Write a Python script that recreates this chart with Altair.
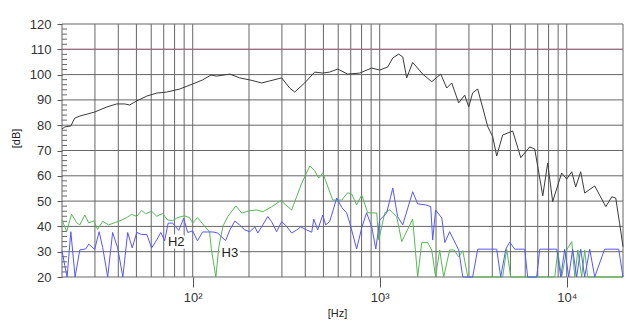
import altair as alt
import pandas as pd

# ---------- data ----------
# Frequency response (black)
resp_freq = [20, 20.7, 22.3, 23.4, 24.9, 29.9, 34.7, 39.2, 43.3, 46.0, 50.2, 56.8, 64.2, 72.6, 85.2,
             100, 113, 125, 134, 158, 178, 202, 234, 258, 299, 330, 351, 397, 449, 496,
             540, 596, 674, 781, 906, 1000, 1104, 1175, 1264, 1328, 1394, 1501, 1698, 1897, 2120,
             2282, 2427, 2645, 2848, 2992, 3142, 3342, 3783, 4020, 4224, 4545, 5143, 5679, 6344, 6745,
             7447, 7913, 8414, 9397, 10000, 10640, 11170, 11880, 12480, 14120, 16180, 17420, 18290, 19200, 20000]
resp_db = [78.5, 79.3, 79.7, 82.8, 83.6, 85.2, 87.2, 88.4, 88.4, 88.0, 89.6, 91.5, 92.7, 93.1, 94.3,
           96.3, 97.9, 99.8, 99.4, 100.2, 98.7, 97.9, 96.7, 97.5, 98.7, 94.7, 93.1, 96.7, 101.0, 100.6,
           101.0, 102.2, 100.2, 100.6, 102.6, 101.8, 103.0, 106.6, 108.1, 107.0, 98.7, 104.8, 100.2, 97.2, 100.2,
           94.7, 96.7, 88.8, 91.9, 87.2, 92.8, 94.3, 79.4, 75.5, 67.8, 76.1, 77.7, 67.2, 71.4, 70.6,
           52.1, 65.0, 49.8, 61.1, 58.7, 61.6, 55.6, 61.6, 53.2, 56.0, 47.8, 51.7, 51.2, 41.0, 32.0]

# 2nd harmonic (green)
h2_freq = [20, 21.2, 22.5, 24.0, 24.9, 26.5, 27.8, 29.6, 31.0, 33.0, 35.5, 38.7, 41.7, 44.4, 47.2,
           50.2, 53.3, 56.0, 60.3, 64.2, 69.1, 73.5, 78.1, 83.1, 90.6, 96.3, 100, 106, 116, 123,
           126, 133, 138, 145, 154, 170, 183, 202, 220, 237, 264, 296, 338, 383, 423,
           449, 472, 496, 561, 627, 674, 708, 753, 801, 863, 964, 988, 1065, 1131, 1233,
           1312, 1501, 1596, 1678, 1807, 1897, 1990, 2093, 2199, 2366, 2500, 2645, 2782, 2957, 4545,
           4775, 5021, 8630, 8958, 9397, 10000, 10640, 11050, 11470, 12030, 12480, 12950, 20000]
h2_db = [42.5, 38.0, 44.8, 41.4, 40.6, 44.5, 41.4, 42.2, 38.8, 42.0, 40.6, 41.6, 42.5, 43.5, 44.8,
         43.9, 46.3, 45.0, 46.0, 44.0, 45.1, 42.5, 42.3, 43.5, 44.2, 43.4, 41.3, 43.5, 40.0, 37.8,
         30.7, 20.0, 32.0, 40.0, 43.9, 48.1, 45.3, 46.2, 46.5, 45.8, 47.7, 50.2, 46.5, 57.1, 63.9,
         62.0, 59.1, 61.2, 50.4, 50.4, 53.3, 52.8, 48.5, 52.4, 45.4, 45.3, 34.6, 45.4, 46.5, 43.8,
         34.0, 42.9, 20.0, 33.6, 33.6, 30.7, 20.0, 30.7, 20.0, 30.7, 30.7, 27.9, 30.4, 20.0, 20.0,
         31.0, 20.0, 20.0, 30.0, 20.0, 30.7, 34.0, 20.0, 30.7, 20.0, 30.7, 20.0, 20.0]

# 3rd harmonic (blue)
h3_freq = [20, 20.7, 21.3, 22.3, 23.5, 24.9, 26.8, 27.8, 29.9, 31.6, 33.0, 35.1, 37.3, 39.7, 42.3,
           44.9, 47.5, 50.2, 53.3, 56.8, 60.3, 64.6, 67.5, 70.8, 73.9, 78.1, 84.2, 89.5, 94.0, 100,
           106, 113, 120, 128, 136, 141, 150, 158, 168, 178, 190, 202, 215, 223, 237,
           252, 264, 281, 299, 318, 338, 360, 378, 407, 433, 444, 466, 496, 514, 540,
           589, 627, 666, 692, 753, 801, 851, 906, 953, 1000, 1089, 1175, 1247, 1328, 1501,
           1596, 1762, 1875, 1920, 1990, 2149, 2230, 2366, 2489, 2645, 2782, 3142, 3342, 4224, 4437,
           4722, 4955, 5273, 5962, 6186, 6911, 7178, 8849, 9296, 9758, 10250, 10760, 11300, 11880, 12480,
           13280, 14120, 15950, 18970, 20000]
h3_db = [30.5, 24.5, 20.0, 37.9, 20.0, 30.7, 31.1, 33.0, 30.9, 37.9, 31.7, 20.0, 37.6, 31.5, 20.0,
         37.6, 31.5, 37.6, 36.8, 36.8, 31.5, 35.0, 37.6, 34.3, 41.3, 41.3, 38.4, 43.2, 37.6, 38.2,
         34.3, 37.8, 37.8, 37.8, 37.4, 36.2, 34.4, 38.6, 42.1, 40.6, 38.6, 37.9, 39.8, 37.4, 40.6,
         43.9, 41.9, 37.9, 41.9, 40.0, 37.4, 38.6, 39.8, 38.6, 37.7, 42.9, 38.6, 44.5, 40.6, 41.9,
         51.2, 47.5, 45.3, 41.3, 31.1, 39.4, 45.4, 39.9, 31.1, 42.5, 45.3, 55.2, 43.8, 40.6, 53.7,
         48.9, 48.5, 47.8, 34.6, 46.5, 43.3, 33.6, 37.9, 34.6, 30.7, 20.0, 20.0, 31.0, 31.0, 20.0,
         31.0, 33.8, 31.0, 31.0, 20.0, 20.0, 31.0, 31.0, 20.0, 31.0, 20.0, 31.0, 20.0, 31.0, 20.0,
         31.0, 20.0, 31.0, 31.0, 20.0]

# Labels
label_text = ["H2", "H3"]
label_freq = [81.6, 158]
label_db = [33.8, 29.5]

# Axis / grid values
x_tick_values = [100, 1000, 10000]
x_grid = [20, 30, 40, 50, 60, 70, 80, 90, 100, 200, 300, 400, 500, 600, 700, 800, 900,
          1000, 2000, 3000, 4000, 5000, 6000, 7000, 8000, 9000, 10000, 20000]
y_grid = [20, 30, 40, 50, 60, 70, 80, 90, 100, 110, 120]
y_minor = [v for v in range(22, 120, 2) if v % 10 != 0]
limit_db = [110]

# ---------- chart ----------
W, H = 561, 253
FONT = "Liberation Sans"
xs = alt.Scale(type="log", domain=[20, 20000])
ys = alt.Scale(domain=[20, 120], nice=False, zero=False)

x_axis = alt.Axis(values=x_tick_values,
                  labelExpr="datum.value == 100 ? '10²' : (datum.value == 1000 ? '10³' : '10⁴')",
                  grid=False, domain=False, tickSize=10, tickColor="#555", tickWidth=1,
                  labelPadding=4, labelFontSize=13, labelColor="#333", labelFont=FONT,
                  titleFont=FONT, titleFontSize=11, titleFontWeight="normal", titleColor="#222",
                  titleX=275, titleY=36, titleBaseline="middle", titleAnchor="start", titleAlign="center")
y_axis = alt.Axis(values=y_grid, grid=False, domain=False, tickSize=5, tickColor="#555",
                  labelPadding=6, labelFontSize=13, labelColor="#333", labelFont=FONT,
                  titleFont=FONT, titleFontSize=11, titleFontWeight="normal", titleColor="#222",
                  titleX=-46, titleY=114, titleAngle=-90, titleBaseline="middle", titleAlign="center")

X = alt.X("f:Q", scale=xs, axis=x_axis, title="[Hz]")
Y = alt.Y("db:Q", scale=ys, axis=y_axis, title="[dB]")

vgrid = alt.Chart(pd.DataFrame({"f": x_grid})).mark_rule(color="#666", strokeWidth=1).encode(x=X)
hgrid = alt.Chart(pd.DataFrame({"db": y_grid})).mark_rule(color="#666", strokeWidth=1).encode(y=Y)
limit = alt.Chart(pd.DataFrame({"db": limit_db})).mark_rule(color="#a06c84", strokeWidth=1).encode(y=Y)
minor = alt.Chart(pd.DataFrame({"db": y_minor})).mark_rule(color="#666", strokeWidth=1).encode(
    y=Y, x=alt.value(0), x2=alt.value(5))


def curve(freqs, dbs, color):
    return alt.Chart(pd.DataFrame({"f": freqs, "db": dbs})).mark_line(
        color=color, strokeWidth=1, interpolate="linear").encode(x=X, y=Y, order="f:Q")


black = curve(resp_freq, resp_db, "#3a3a3a")
green = curve(h2_freq, h2_db, "#55b955")
blue = curve(h3_freq, h3_db, "#5656ff")

lab_df = pd.DataFrame({"f": label_freq, "db": label_db, "t": label_text})
halo = alt.Chart(lab_df).mark_text(font=FONT, fontSize=13, color="white", stroke="white",
                                   strokeWidth=5, align="center", baseline="middle").encode(
    x=X, y=Y, text="t:N")
labels = alt.Chart(lab_df).mark_text(font=FONT, fontSize=13, color="#222",
                                     align="center", baseline="middle").encode(
    x=X, y=Y, text="t:N")

chart = alt.layer(vgrid, hgrid, minor, limit, halo, green, blue, black, labels).properties(
    width=W, height=H,
    autosize=alt.AutoSizeParams(type="none"),
    padding={"left": 54, "top": 16, "right": 13, "bottom": 51},
    background="white",
).configure_view(stroke=None)

chart.save("out.html", embed_options={"renderer": "svg", "actions": False})
